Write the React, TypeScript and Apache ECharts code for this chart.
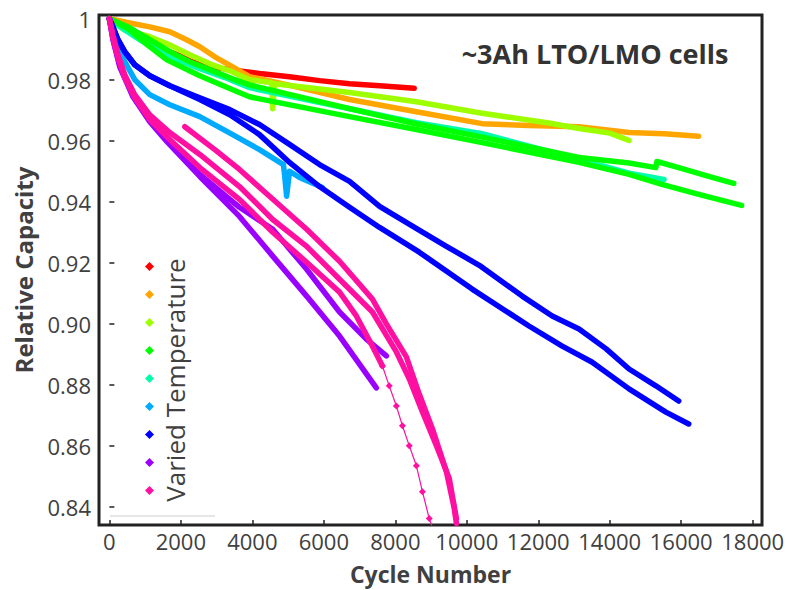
import React, { useEffect, useRef } from 'react';
import * as echarts from 'echarts';

const FONT = '"Open Sans", "Liberation Sans", sans-serif';

// Axis ticks
const xTicks = [0, 2000, 4000, 6000, 8000, 10000, 12000, 14000, 16000, 18000];
const yTicks = [0.84, 0.86, 0.88, 0.9, 0.92, 0.94, 0.96, 0.98, 1.0];

// Legend entries (one per temperature colour)
const legendNames = ['T1', 'T2', 'T3', 'T4', 'T5', 'T6', 'T7', 'T8', 'T9'];
const legendColors = ['#ff0000', '#ffa500', '#9dff00', '#00ff00', '#00ffaa', '#00aaff', '#0000ff', '#9900ff', '#ff10a0'];

// Series values: [cycle number, relative capacity]
const redCell = [[1190, 0.9911], [1550, 0.9898], [1970, 0.9878], [2300, 0.9859], [2670, 0.9846], [3370, 0.9833], [4200, 0.982], [5040, 0.981], [5880, 0.9797], [6720, 0.9787], [7560, 0.978], [8530, 0.9772]];
const orangeCell = [[0, 1.0], [570, 0.9986], [1130, 0.9973], [1690, 0.9957], [2160, 0.9931], [2530, 0.9908], [2950, 0.9875], [3450, 0.9842], [3920, 0.981], [4620, 0.9793], [5320, 0.9774], [6720, 0.9735], [8590, 0.9695], [10430, 0.9656], [11740, 0.965], [13140, 0.9646], [14540, 0.9627], [15520, 0.9623], [16490, 0.9615]];
const yellowGreenCell = [[0, 0.9996], [430, 0.9963], [1130, 0.9941], [1690, 0.9914], [2250, 0.9882], [2810, 0.9852], [3370, 0.9829], [3920, 0.98], [4540, 0.979], [4570, 0.9705], [4620, 0.9787], [6720, 0.9758], [8590, 0.9728], [10430, 0.969], [12300, 0.9658], [13140, 0.964], [14000, 0.9625], [14540, 0.9601]];
const greenCellA = [[0, 1.0], [570, 0.997], [1130, 0.9931], [1690, 0.9892], [2250, 0.9859], [2810, 0.9833], [3510, 0.98], [3920, 0.9783], [6720, 0.9705], [8590, 0.9655], [10430, 0.9612], [13140, 0.9545], [14540, 0.9527], [15290, 0.9512], [15320, 0.9532], [15930, 0.9512], [16770, 0.9483], [17470, 0.946]];
const greenCellB = [[0, 1.0], [570, 0.9963], [990, 0.9921], [1610, 0.9865], [2530, 0.9813], [3450, 0.9767], [3920, 0.9744], [6720, 0.9679], [8590, 0.9637], [10430, 0.9594], [13140, 0.9529], [14540, 0.949], [15460, 0.9457], [16490, 0.9424], [17690, 0.9388]];
const aquaCell = [[0, 1.0], [430, 0.9963], [850, 0.9931], [1410, 0.9895], [1970, 0.9862], [2530, 0.9836], [3230, 0.9807], [3920, 0.9774], [6720, 0.9705], [8590, 0.9659], [10430, 0.9623], [13140, 0.9539], [14540, 0.9494], [15520, 0.9473]];
const lightBlueCell = [[0, 1.0], [100, 0.9963], [240, 0.9914], [430, 0.9859], [710, 0.98], [1130, 0.9751], [1690, 0.9718], [2530, 0.9679], [3450, 0.962], [4200, 0.9571], [4870, 0.9522], [4900, 0.949], [4960, 0.9418], [5040, 0.95], [5320, 0.948], [5960, 0.9447]];
const blueCellA = [[0, 1.0], [100, 0.9973], [240, 0.9931], [430, 0.9892], [710, 0.9849], [1130, 0.9813], [1690, 0.978], [2530, 0.9741], [3370, 0.9702], [4200, 0.9653], [5040, 0.9588], [5880, 0.9522], [6720, 0.9467], [7560, 0.9385], [8480, 0.932], [9430, 0.9254], [10350, 0.9192], [11550, 0.9091], [12390, 0.9026], [13140, 0.8983], [13900, 0.8918], [14540, 0.8852], [15290, 0.8797], [15930, 0.8747]];
const blueCellB = [[0, 1.0], [100, 0.9973], [240, 0.9931], [430, 0.9892], [710, 0.9849], [1130, 0.9813], [1690, 0.978], [2530, 0.9735], [3370, 0.9685], [4200, 0.962], [5040, 0.9529], [5880, 0.945], [6720, 0.9382], [7560, 0.9316], [8670, 0.9235], [10150, 0.9114], [11740, 0.8993], [12670, 0.8927], [13500, 0.8875], [14540, 0.8787], [15570, 0.8711], [16210, 0.8672]];
const purpleCellA = [[0, 1.0], [100, 0.9931], [290, 0.9842], [660, 0.9744], [1130, 0.9662], [1610, 0.9597], [2530, 0.9483], [3640, 0.9352], [4570, 0.9222], [5520, 0.9091], [6440, 0.896], [7470, 0.879]];
const purpleCellB = [[0, 1.0], [100, 0.9935], [290, 0.985], [660, 0.975], [1130, 0.967], [1610, 0.9605], [2530, 0.949], [3640, 0.9382], [4570, 0.931], [5520, 0.9179], [6440, 0.9039], [7190, 0.895], [7750, 0.8895]];
const pinkCellA = [[2110, 0.9646], [2950, 0.9571], [3640, 0.9506], [4480, 0.9418], [5520, 0.931], [6440, 0.9205], [7360, 0.9081], [7750, 0.9], [8310, 0.8892], [8670, 0.877], [9040, 0.8656], [9430, 0.8516], [9650, 0.8395], [9710, 0.8346]];
const pinkCellB = [[0, 1.0], [100, 0.9947], [240, 0.9882], [430, 0.9816], [710, 0.9751], [1130, 0.9685], [1690, 0.9627], [2530, 0.9555], [3640, 0.945], [4570, 0.9342], [5520, 0.9254], [6440, 0.9146], [7360, 0.9039], [8030, 0.8908], [8390, 0.882], [8760, 0.8711], [9150, 0.8601], [9510, 0.8493], [9710, 0.8362]];
const pinkCellC = [[0, 1.0], [100, 0.9937], [240, 0.9872], [430, 0.9807], [710, 0.9741], [1130, 0.9669], [1690, 0.9604], [2530, 0.9512], [3640, 0.9408], [4570, 0.93], [5520, 0.9202], [6440, 0.9104], [6910, 0.9026], [7360, 0.8927], [7640, 0.8862]];
const pinkCellCTail = [[7640, 0.8862], [7830, 0.8797], [8030, 0.8731], [8200, 0.8666], [8390, 0.8601], [8590, 0.8535], [8760, 0.845], [8950, 0.8362], [9050, 0.833]];

const seriesDefs = [
  { legend: 0, data: redCell },
  { legend: 1, data: orangeCell },
  { legend: 2, data: yellowGreenCell },
  { legend: 4, data: aquaCell },
  { legend: 3, data: greenCellA },
  { legend: 3, data: greenCellB },
  { legend: 5, data: lightBlueCell },
  { legend: 6, data: blueCellA },
  { legend: 6, data: blueCellB },
  { legend: 7, data: purpleCellA },
  { legend: 7, data: purpleCellB },
  { legend: 8, data: pinkCellA },
  { legend: 8, data: pinkCellB },
  { legend: 8, data: pinkCellC },
  { legend: 8, data: pinkCellCTail, tail: true },
];

export default function App() {
  const ref = useRef<HTMLDivElement>(null);
  useEffect(() => {
    const chart = echarts.init(ref.current!, null, { renderer: 'svg' });
    const axisText = { color: '#404040', fontSize: 22, fontFamily: FONT };
    const option: any = {
      animation: false,
      backgroundColor: '#ffffff',
      grid: { left: 99, top: 15, right: 32, bottom: 65, show: true, borderColor: '#222222', borderWidth: 3, backgroundColor: 'transparent', containLabel: false, outerBoundsMode: 'none' },
      xAxis: {
        type: 'value', min: -290, max: 18260,
        splitLine: { show: false }, axisLine: { show: false },
        axisTick: { show: true, inside: true, length: 5, customValues: xTicks, lineStyle: { color: '#222', width: 1.5 } },
        axisLabel: { ...axisText, customValues: xTicks, margin: 5, formatter: (v: number) => String(v) },
        name: 'Cycle Number', nameLocation: 'middle', nameGap: 37,
        nameTextStyle: { color: '#404040', fontSize: 23, lineHeight: 24, fontWeight: 'bold', fontFamily: FONT },
      },
      yAxis: {
        type: 'value', min: 0.8341, max: 1.0012,
        splitLine: { show: false }, axisLine: { show: false },
        axisTick: { show: true, inside: true, length: 5, customValues: yTicks, lineStyle: { color: '#222', width: 1.5 } },
        axisLabel: { ...axisText, customValues: yTicks, margin: 8, formatter: (v: number) => (Math.abs(v - 1) < 1e-9 ? '1' : v.toFixed(2)) },
        name: 'Relative Capacity', nameLocation: 'middle', nameGap: 64,
        nameTextStyle: { color: '#404040', fontSize: 24, fontWeight: 'bold', fontFamily: FONT },
      },
      legend: {
        orient: 'vertical', left: 145, top: 262, itemWidth: 9, itemHeight: 9, itemGap: 19, padding: 0,
        icon: 'diamond', selectedMode: false, formatter: () => '', textStyle: { fontSize: 9 },
        data: legendNames,
      },
      graphic: [
        { type: 'text', x: 595, y: 53, style: { text: '~3Ah LTO/LMO cells', font: `bold 27px ${FONT}`, fill: '#333333', align: 'center', verticalAlign: 'middle', textAlign: 'center', textVerticalAlign: 'middle' } },
        { type: 'text', x: 175, y: 380, rotation: Math.PI / 2, style: { text: 'Varied Temperature', font: `26px ${FONT}`, fill: '#404040', align: 'center', verticalAlign: 'middle', textAlign: 'center', textVerticalAlign: 'middle' } },
        { type: 'line', shape: { x1: 110, y1: 516, x2: 215, y2: 516 }, style: { stroke: '#cccccc', lineWidth: 1 } },
      ],
      series: seriesDefs.map((d) => ({
        type: 'line',
        name: legendNames[d.legend],
        data: d.data,
        color: legendColors[d.legend],
        showSymbol: !!d.tail,
        symbol: 'diamond',
        symbolSize: 7,
        lineStyle: { width: d.tail ? 1.2 : 5.5, color: legendColors[d.legend], join: 'round', cap: 'round' },
        itemStyle: { color: legendColors[d.legend] },
        emphasis: { disabled: true },
        silent: true,
      })),
    };
    chart.setOption(option);
    return () => chart.dispose();
  }, []);
  return <div ref={ref} style={{ position: 'absolute', left: 0, top: 0, width: 794, height: 590 }} />;
}
